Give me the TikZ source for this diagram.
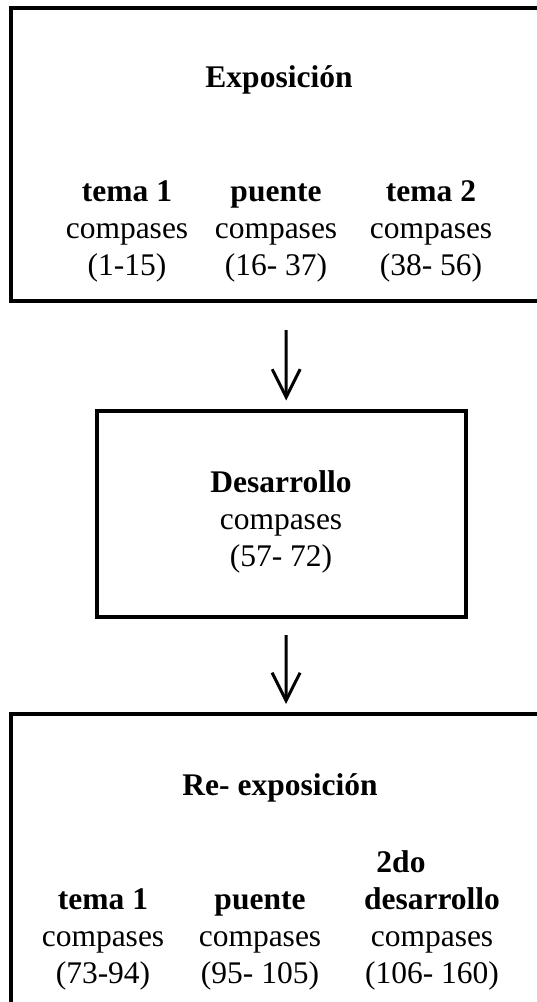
\documentclass[tikz,border=0pt]{standalone}
\usepackage{fontspec}
\setmainfont{Liberation Serif}
\usetikzlibrary{arrows.meta,positioning}
\newcommand{\sz}{\fontsize{31.5}{37}\selectfont}
\tikzstyle{stage} = [
    draw,
    line width=4pt,
    outer sep=0pt,
    inner sep=0pt
]
\tikzstyle{heading} = [font=\sz\bfseries, inner sep=0pt, anchor=base]
\tikzstyle{column} = [font=\sz, align=center, inner sep=0pt, anchor=base]
\tikzstyle{arrow} = [
    line width=3pt,
    -{Straight Barb[length=28pt, width=28pt]}
]

\begin{document}
\begin{tikzpicture}[x=1pt, y=-1pt]
    \useasboundingbox (0,0) rectangle (536,1002);
    % Exposicion
    \node[stage, minimum width=536pt, minimum height=293.5pt] (expo) at (279,154.25) {};
    \node[heading] (expotitle) at (279,87) {Exposición};
    \node[column] (expotema1) at (127,275) {\textbf{tema 1}\\compases\\(1-15)};
    \node[column] (expopuente) at (276,275) {\textbf{puente}\\compases\\(16- 37)};
    \node[column] (expotema2) at (431,275) {\textbf{tema 2}\\compases\\(38- 56)};
    % Desarrollo
    \node[stage, minimum width=369.5pt, minimum height=206pt] (desa) at (281.25,513.5) {};
    \node[column] (desatext) at (281,566) {\textbf{Desarrollo}\\compases\\(57- 72)};
    % Re-exposicion
    \node[stage, minimum width=536pt, minimum height=330pt] (reex) at (279,879) {};
    \node[heading] (reextitle) at (280,795) {Re- exposición};
    \node[column] (reextema1) at (103,983) {\textbf{tema 1}\\compases\\(73-94)};
    \node[column] (reexpuente) at (260,983) {\textbf{puente}\\compases\\(95- 105)};
    \node[column] (reexdesa) at (432,983) {\textbf{2do}\hspace*{62pt}\\\textbf{desarrollo}\\compases\\(106- 160)};
    % Arrows
    \draw[arrow, shorten <=29pt, shorten >=10pt] ([xshift=7pt]expo.south) -- ([xshift=5pt]desa.north);
    \draw[arrow, shorten <=18.5pt, shorten >=10pt] ([xshift=5pt]desa.south) -- ([xshift=7pt]reex.north);
\end{tikzpicture}
\end{document}
